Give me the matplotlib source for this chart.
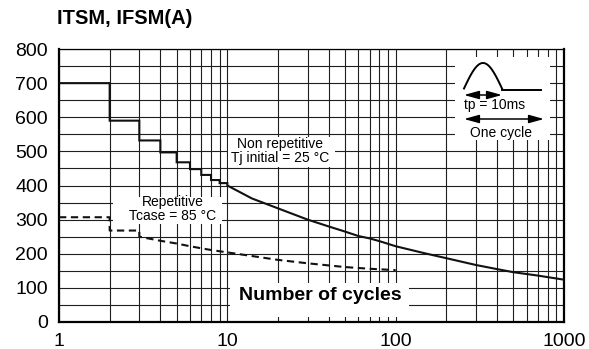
import numpy as np
import matplotlib
matplotlib.use('Agg')
from matplotlib import pyplot as plt
from matplotlib.patches import Rectangle
from matplotlib.ticker import LogLocator, MultipleLocator, NullFormatter

plt.rcParams['font.family'] = ['Liberation Sans', 'DejaVu Sans']

W, H = 589, 349

# non repetitive surge, Tj initial = 25 °C
nonrep_step_n = [1, 2, 3, 4, 5, 6, 7, 8, 9, 10]
nonrep_step_i = [700, 590, 532, 497, 468, 448, 431, 416, 407, 400]
nonrep_n = [10, 14, 20, 30, 40, 50, 60, 70, 80, 100, 150, 200, 300, 400, 500, 700, 1000]
nonrep_i = [400, 362, 333, 300, 280, 265, 252, 245, 237, 222, 201, 187, 167, 155, 146, 136, 124]

# repetitive surge, Tcase = 85 °C
rep_step_n = [1, 2, 3]
rep_step_i = [307, 268, 250]
rep_n = [3, 4, 5, 6, 7, 8, 10, 20, 30, 50, 70, 100]
rep_i = [250, 238, 230, 222, 216, 211, 204, 182, 172, 161, 156, 152]

x_ticks = [1, 10, 100, 1000]
x_labels = ['1', '10', '100', '1000']
y_ticks = [0, 100, 200, 300, 400, 500, 600, 700, 800]


def staircase(n, i):
    # hold each value until the next cycle count, then drop
    xs, ys = [n[0]], [i[0]]
    for k in range(1, len(n)):
        xs += [n[k], n[k]]
        ys += [i[k - 1], i[k]]
    return xs, ys


def px(x, y):
    # pixel position -> figure fraction
    return x / W, 1 - y / H


fig = plt.figure(figsize=(W / 100, H / 100), dpi=100)
ax = fig.add_axes([59 / W, (H - 322) / H, 505 / W, 273 / H])

ax.set_xscale('log')
ax.set_xlim(1, 1000)
ax.set_ylim(0, 800)
ax.set_xticks(x_ticks, labels=x_labels)
ax.xaxis.set_minor_locator(LogLocator(base=10, subs=range(2, 10)))
ax.xaxis.set_minor_formatter(NullFormatter())
ax.set_yticks(y_ticks)
ax.yaxis.set_minor_locator(MultipleLocator(50))
ax.tick_params(which='both', length=0, labelsize=14, pad=8)
ax.set_axisbelow(True)
ax.grid(which='both', color='#1e1e1e', lw=0.8)

for side in ['left', 'bottom', 'right']:
    ax.spines[side].set_linewidth(1.6)
ax.spines['top'].set_linewidth(0.9)

# white patches behind the labels and the pulse sketch
for x0, x1, y0, y1 in [(230, 409, 283, 317), (228, 335, 137, 167),
                       (113, 222, 197, 224), (455, 550, 57, 140)]:
    ax.add_patch(Rectangle(((x0 - 59) / 505, (322 - y1) / 273),
                           (x1 - x0) / 505, (y1 - y0) / 273,
                           transform=ax.transAxes, fc='white', ec='none',
                           zorder=1.5))

sx, sy = staircase(nonrep_step_n, nonrep_step_i)
ax.plot(sx + nonrep_n[1:], sy + nonrep_i[1:], color='#111111', lw=1.5,
        zorder=3, solid_joinstyle='miter')

rx, ry = staircase(rep_step_n, rep_step_i)
ax.plot(rx + rep_n[1:], ry + rep_i[1:], color='#111111', lw=1.5,
        ls=(0, (3.5, 2.2)), zorder=3)

fig.text(*px(57, 19), 'ITSM, IFSM(A)', fontsize=14.5, fontweight='bold',
         ha='left', va='center')
fig.text(*px(320, 295), 'Number of cycles', fontsize=14, fontweight='bold',
         ha='center', va='center')
fig.text(*px(280, 151), 'Non repetitive\nTj initial = 25 °C', fontsize=10,
         ha='center', va='center', linespacing=0.95)
fig.text(*px(173, 209), 'Repetitive\nTcase = 85 °C', fontsize=10,
         ha='center', va='center', linespacing=0.95)

# pulse sketch: one half sine of width tp, then the rest of the cycle
ins = fig.add_axes([455 / W, (H - 140) / H, 95 / W, 83 / H])
ins.set_xlim(455, 550)
ins.set_ylim(140, 57)
ins.axis('off')
t = np.linspace(0, np.pi, 80)
ins.plot(464 + 38 * t / np.pi, 88.5 - 25.5 * np.sin(t), color='k', lw=1.4)
ins.plot([502, 541], [89.5, 89.5], color='k', lw=1.4)
arrow = dict(arrowstyle='<|-|>,head_length=0.9,head_width=0.25', color='k',
             lw=1.1, mutation_scale=10, shrinkA=0, shrinkB=0)
ins.annotate('', xy=(502, 95), xytext=(464, 95), arrowprops=arrow)
ins.annotate('', xy=(544, 119), xytext=(464, 119), arrowprops=arrow)
ins.text(464, 105.5, 'tp = 10ms', fontsize=10, ha='left', va='center')
ins.text(501, 133, 'One cycle', fontsize=10, ha='center', va='center')

fig.savefig('out.png', dpi=100)
